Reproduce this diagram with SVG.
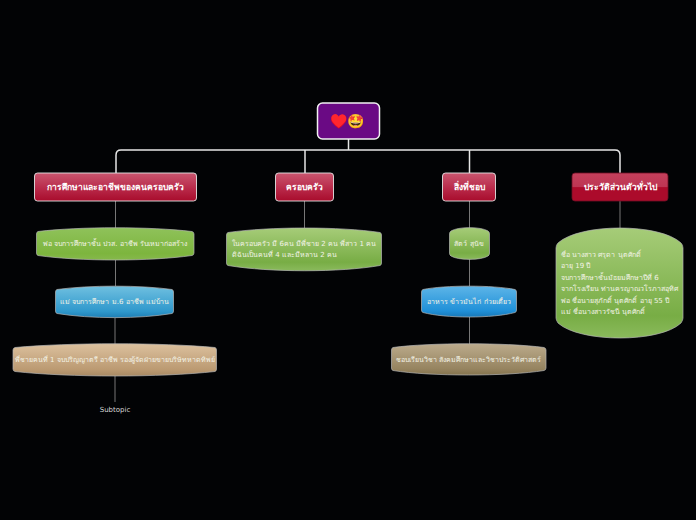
<svg xmlns="http://www.w3.org/2000/svg" width="696" height="520" viewBox="0 0 696 520">
<style>
text{font-family:"DejaVu Sans","Noto Sans",sans-serif;text-anchor:middle;fill:#fff}
.t{font-size:8.500px;font-weight:700}
.s{font-size:7px;fill:#f3f3e6}
.l{text-anchor:start}
.b{stroke:#b5b5b5;stroke-width:.7}
.w{stroke:#e4e4e4;stroke-width:.9}
.c1{fill:none;stroke:#e6e6e6;stroke-width:1.5}
.c2{fill:none;stroke:#777;stroke-width:1}
</style>
<defs>
<linearGradient id="red" x1="0" y1="0" x2="0" y2="1"><stop offset="0" stop-color="#c9566f"/><stop offset=".55" stop-color="#b92a4a"/><stop offset="1" stop-color="#a80c2c"/></linearGradient>
<linearGradient id="red2" x1="0" y1="0" x2="0" y2="1"><stop offset="0" stop-color="#c4405c"/><stop offset=".5" stop-color="#bd3553"/><stop offset=".52" stop-color="#ac0b2b"/><stop offset="1" stop-color="#ac0b2b"/></linearGradient>
<linearGradient id="green" x1="0" y1="0" x2="0" y2="1"><stop offset="0" stop-color="#8fc25a"/><stop offset=".8" stop-color="#7db53e"/><stop offset="1" stop-color="#86b84c"/></linearGradient>
<linearGradient id="green2" x1="0" y1="0" x2="0" y2="1"><stop offset="0" stop-color="#a6cc78"/><stop offset=".8" stop-color="#78ad45"/><stop offset="1" stop-color="#8aba5c"/></linearGradient>
<linearGradient id="blue" x1="0" y1="0" x2="0" y2="1"><stop offset="0" stop-color="#70c0e0"/><stop offset=".8" stop-color="#2f98cc"/><stop offset="1" stop-color="#1f7fb5"/></linearGradient>
<linearGradient id="blue2" x1="0" y1="0" x2="0" y2="1"><stop offset="0" stop-color="#5db5e8"/><stop offset=".8" stop-color="#2090d8"/><stop offset="1" stop-color="#1878b8"/></linearGradient>
<linearGradient id="tan" x1="0" y1="0" x2="0" y2="1"><stop offset="0" stop-color="#dcc19e"/><stop offset=".8" stop-color="#bb9a72"/><stop offset="1" stop-color="#a88a64"/></linearGradient>
<linearGradient id="tan2" x1="0" y1="0" x2="0" y2="1"><stop offset="0" stop-color="#bcab8c"/><stop offset=".8" stop-color="#968460"/><stop offset="1" stop-color="#85744f"/></linearGradient>
</defs>
<rect width="696" height="520" fill="#020305"/>
<g id="connectors">
<path class="c1" d="M348.500 139V150M116 173V155Q116 150 121 150H615Q620 150 620 155V173M305 150V173M469.500 150V173"/>
<path class="c2" d="M115.500 201V228M115.500 260V286M115 318V344M115 376V402M304.500 201V228M469.500 201V228M469.500 259V286M469.500 317V344M620 201V228"/>
</g>
<g id="root"><rect x="317.500" y="103" width="62" height="36" rx="5" fill="#6a0a84" stroke="#f2f2f2" stroke-width="1.500"/><text x="347.500" y="126" font-size="14" style="font-family:'Noto Color Emoji','Noto Sans',sans-serif">♥️🤩</text></g>
<g id="t1"><rect x="34.500" y="173" width="162" height="28" rx="3" fill="url(#red)" class="w"/><text class="t" x="115.500" y="190">การศึกษาและอาชีพของคนครอบครัว</text></g>
<g id="t2"><rect x="275.500" y="173" width="58" height="28" rx="3" fill="url(#red)" class="w"/><text class="t" x="304.500" y="190">ครอบครัว</text></g>
<g id="t3"><rect x="442.500" y="173" width="53" height="28" rx="3" fill="url(#red)" class="w"/><text class="t" x="469" y="190">สิ่งที่ชอบ</text></g>
<g id="t4"><rect x="572" y="173" width="96" height="28" rx="3" fill="url(#red2)" stroke="#6e1025" stroke-width=".8"/><text class="t" x="620" y="190">ประวัติส่วนตัวทั่วไป</text></g>
<g id="n1"><path class="b" fill="url(#green)" d="M38 231.500C80 226.500 150 226.500 192 231.500Q194 232 194 234V253Q194 255 192 255.500C150 261.500 80 261.500 38 255.500Q36.500 255 36.500 253V234Q36.500 232 38 231.500Z"/><text class="s" x="115" y="246">พ่อ จบการศึกษาชั้น ปวส. อาชีพ รับเหมาก่อสร้าง</text></g>
<g id="n2"><path class="b" fill="url(#blue)" d="M57 289.500C90 285 140 285 172 289.500Q173.500 290 173.500 292V311Q173.500 313 172 313.500C140 319 90 319 57 313.500Q55.500 313 55.500 311V292Q55.500 290 57 289.500Z"/><text class="s" x="114.500" y="304">แม่ จบการศึกษา ม.6 อาชีพ แม่บ้าน</text></g>
<g id="n3"><path class="b" fill="url(#tan)" d="M15 347.500C70 342.500 160 342.500 215 347.500Q216.500 348 216.500 350V369Q216.500 371 215 371.500C160 377.500 70 377.500 15 371.500Q13 371 13 369V350Q13 348 15 347.500Z"/><text class="s" x="115" y="362">พี่ชายคนที่ 1 จบปริญญาตรี อาชีพ รองผู้จัดฝ่ายขายบริษัทหาดทิพย์</text></g>
<g id="n4"><text x="115" y="412" font-size="7" style="fill:#d8d8d8">Subtopic</text></g>
<g id="n5"><path class="b" fill="url(#green2)" d="M228 232.500C270 226.500 340 226.500 380 232.500Q381.500 233 381.500 235V263Q381.500 265 380 265.500C340 272.500 270 272.500 228 265.500Q226.500 265 226.500 263V235Q226.500 233 228 232.500Z"/><text class="s l" x="232" y="246">ในครอบครัว มี 6คน มีพี่ชาย 2 คน พี่สาว 1 คน</text><text class="s l" x="232" y="257">ดิฉันเป็นคนที่ 4 และมีหลาน 2 คน</text></g>
<g id="n6"><path class="b" fill="url(#green2)" d="M451 231C458 226.500 481 226.500 488 231Q489.500 232 489.500 234V253Q489.500 255 488 256C481 260.500 458 260.500 451 256Q449.500 255 449.500 253V234Q449.500 232 451 231Z"/><text class="s" x="469" y="246">สัตว์ สุนัข</text></g>
<g id="n7"><path class="b" fill="url(#blue2)" d="M423 289.500C445 285 493 285 515 289.500Q516.500 290 516.500 292V310Q516.500 312 515 312.500C493 318.500 445 318.500 423 312.500Q421.500 312 421.500 310V292Q421.500 290 423 289.500Z"/><text class="s" x="469" y="304">อาหาร ข้าวมันไก่ ก๋วยเตี๋ยว</text></g>
<g id="n8"><path class="b" fill="url(#tan2)" d="M393 347.500C430 342.500 507 342.500 544 347.500Q546 348 546 350V368Q546 370 544 370.500C507 376.500 430 376.500 393 370.500Q391.500 370 391.500 368V350Q391.500 348 393 347.500Z"/><text class="s" x="468.500" y="362">ชอบเรียนวิชา สังคมศึกษาและวิชาประวัติศาสตร์</text></g>
<g id="n9"><path class="b" fill="url(#green2)" d="M558 243C580 223 660 223 681 243Q683 245 683 248V318Q683 320 681 323C660 343 580 343 558 323Q556 320 556 318V248Q556 245 558 243Z"/>
<text class="s l" x="561" y="257">ชื่อ นางสาว ศรุดา นุตศักดิ์</text>
<text class="s l" x="561" y="268">อายุ 19 ปี</text>
<text class="s l" x="561" y="280">จบการศึกษาชั้นมัธยมศึกษาปีที่ 6</text>
<text class="s l" x="561" y="291">จากโรงเรียน ท่านครญาณวโรภาสอุทิศ</text>
<text class="s l" x="561" y="303">พ่อ ชื่อนายสุภักดิ์ นุตศักดิ์ อายุ 55 ปี</text>
<text class="s l" x="561" y="314">แม่ ชื่อนางสาวรัชนี นุตศักดิ์</text></g>
</svg>
